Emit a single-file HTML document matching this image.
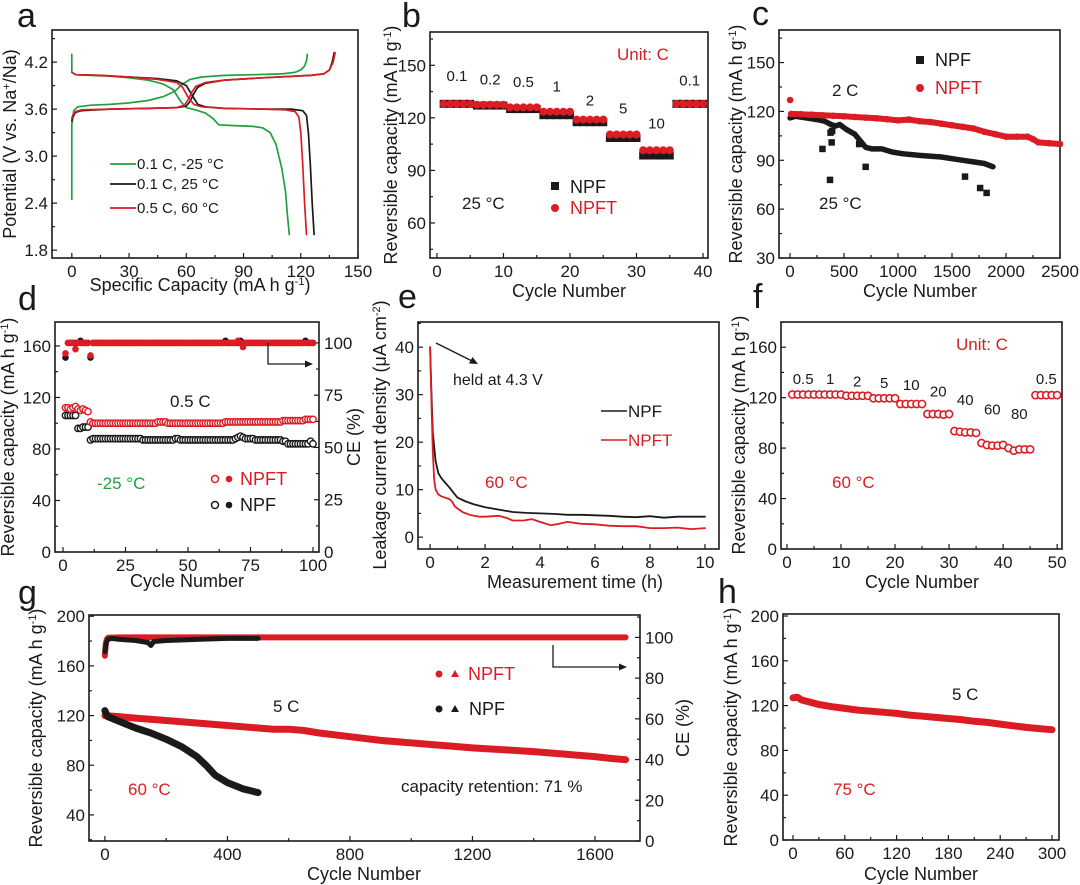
<!DOCTYPE html>
<html><head><meta charset="utf-8"><title>Figure</title>
<style>
html,body{margin:0;padding:0;background:#fff;}
svg{display:block;font-family:"Liberation Sans",Arial,sans-serif;}
</style></head>
<body>
<svg id="fig" width="1080" height="885" viewBox="0 0 1080 885" xmlns="http://www.w3.org/2000/svg"></svg>
<script>
// ---------- DATA ----------
// panel a (capacity, voltage)
const aGreenChgX=[0,0,1,3,10,20,30,40,48,54,58,62,68,80,95,110,117,120,122,123,123.5];
const aGreenChgY=[2.45,3.40,3.58,3.63,3.65,3.66,3.68,3.71,3.76,3.83,3.92,3.98,4.01,4.03,4.04,4.05,4.07,4.10,4.15,4.22,4.30];
const aGreenDisX=[0,0,2,10,20,30,40,48,53,57,60,65,70,74,77,85,95,100,104,107,110,112,113,114];
const aGreenDisY=[4.30,4.07,4.04,4.03,4.02,4.00,3.97,3.92,3.85,3.70,3.62,3.59,3.55,3.48,3.40,3.39,3.38,3.36,3.30,3.15,2.85,2.55,2.25,2.00];
const aBlackChgX=[0,0.5,2,5,20,40,55,60,62,64,66,70,80,100,125,132,135,136.5,137.5];
const aBlackChgY=[3.45,3.50,3.56,3.58,3.60,3.61,3.62,3.64,3.70,3.80,3.88,3.93,3.97,4.00,4.03,4.05,4.10,4.20,4.32];
const aRedChgX=[0,0.5,2,5,20,40,55,59,61,63,65,70,80,100,125,132,135,137,138];
const aRedChgY=[3.48,3.52,3.57,3.59,3.60,3.61,3.62,3.65,3.72,3.82,3.89,3.94,3.97,4.00,4.03,4.05,4.10,4.20,4.32];
const aBlackDisX=[0,2,15,30,45,55,60,63,66,70,80,100,115,121,123,124,125,126,127];
const aBlackDisY=[4.07,4.04,4.03,4.01,3.99,3.96,3.90,3.78,3.66,3.63,3.61,3.60,3.60,3.58,3.52,3.30,2.90,2.40,2.00];
const aRedDisX=[0,2,15,30,45,55,58,61,64,68,80,100,112,117,119,120,121,122,123];
const aRedDisY=[4.07,4.04,4.03,4.01,3.98,3.94,3.88,3.75,3.66,3.63,3.61,3.60,3.59,3.57,3.50,3.30,2.90,2.40,2.00];
// panel b
const bNPFT=[128,128,128,128,128,127.5,127.5,127.5,127.5,127.5,126,126,126,126,126,123.5,123.5,123.5,123.5,123.5,119,119,119,119,119,110.5,110.5,110.5,110.5,110.5,101.5,101.5,101.5,101.5,101.5,128,128,128,128,128];
const bNPF=[128,128,128,128,128,127,127,127,127,127,125,125,125,125,125,121.5,121.5,121.5,121.5,121.5,117.5,117.5,117.5,117.5,117.5,108.5,108.5,108.5,108.5,108.5,98.5,98.5,98.5,98.5,98.5,128,128,128,128,128];
const bRates=["0.1","0.2","0.5","1","2","5","10","0.1"];
const bRateCycle=[3,8,13,18,23,28,33,38];
const bRateVal=[141,139,137.5,135,127,122.5,114,138.5];
// panel c
const cNPFTx=[1,10,100,200,300,400,500,600,700,800,900,1000,1100,1200,1300,1400,1500,1600,1700,1800,1900,2000,2100,2200,2250,2300,2400,2500];
const cNPFTy=[127,118.5,118.3,118,117.6,117.3,117,116.6,116.2,115.8,115.2,114.5,115,114,113.5,112.5,111.5,110.5,109.5,107.5,106,104.5,104.5,104.5,103,101,100.5,100];
const cNPFx=[1,50,150,250,320,380,420,460,520,600,650,700,760,850,950,1050,1200,1400,1600,1700,1800,1880];
const cNPFy=[116,117,116,115,114,112,111,112,109,106,102,98,97,97,95,94,93,92,90,89,88,86];
const cOutX=[300,370,385,375,700,1620,1760,1820,390,640];
const cOutY=[97,78,101,107,86,80,73,70,108,100];
// panel d (cycles 1..100)
const dNPFT=[112,112,111,112,113,111,110,111,110,109,
101,100,100,100,100,100,100,100,100,100,
100,100,100,100,100,100,100,100,100,100,
100,100,100,100,100,100,100,101,101,101,
101,100,100,100,100,100,100,100,100,100,
100,100,100,100,100,100,100,100,100,100,
100,100,100,100,101,101,101,101,101,101,
101,101,101,101,101,101,101,101,101,101,
101,101,101,101,101,101,101,102,102,102,
102,102,102,102,102,102,103,103,103,103];
const dNPF=[106,106,106,106,106,96,96,97,97,97,
87,88,88,88,88,88,88,88,88,88,
88,88,88,88,88,88,88,88,88,88,
88,87,87,87,87,87,87,87,87,87,
87,87,87,87,88,88,87,87,87,87,
87,87,87,87,87,87,87,87,87,87,
87,87,87,87,87,87,87,87,88,89,
90,89,88,88,88,88,87,87,87,87,
87,87,87,87,87,87,87,86,86,84,
84,84,84,84,84,84,84,84,86,84];
const dCENPFT=[95,100,100,100,97,100,100,100,100,100,
94,100,100,100,100,100,100,100,100,100,
100,100,100,100,100,100,100,100,100,100,
100,100,100,100,100,100,100,100,100,100,
100,100,100,100,100,100,100,100,100,100,
100,100,100,100,100,100,100,100,100,100,
100,100,100,100,100,100,100,100,100,101,
100,98,100,100,100,100,100,100,100,100,
100,100,100,100,100,100,100,100,100,100,
100,100,100,100,100,100,100,100,100,100];
const dCENPF=[93,100,100,100,100,100,101,100,100,100,
93,100,100,100,100,100,100,100,100,100,
100,100,100,100,100,100,100,100,100,100,
100,100,100,100,100,100,100,100,100,100,
100,100,100,100,100,100,100,100,100,100,
100,100,100,100,100,100,100,100,100,100,
100,100,100,100,101,100,100,100,100,100,
101,100,100,100,100,100,100,100,100,100,
100,100,100,100,100,100,100,100,100,100,
100,100,100,100,100,100,101,100,100,100];
// panel e
const eNPFx=[0,0.05,0.1,0.2,0.3,0.4,0.5,0.7,0.9,1.0,1.3,1.6,2.0,2.5,3.0,3.5,4.0,4.5,5.0,5.5,6.0,6.5,7.0,7.5,8.0,8.5,9.0,9.5,10];
const eNPFy=[40,30,22,16,13.5,12.5,11.8,10.5,9,8.3,7.5,6.9,6.3,5.8,5.3,5.1,5.0,4.9,4.7,4.7,4.6,4.5,4.3,4.2,4.4,4.1,4.3,4.3,4.3];
const eNPFTx=[0,0.05,0.1,0.15,0.2,0.3,0.4,0.5,0.7,0.8,0.9,1.0,1.2,1.5,1.8,2.0,2.5,2.8,3.0,3.4,3.7,4.0,4.4,4.7,5.0,5.5,6.0,6.5,7.0,7.5,8.0,8.5,9.0,9.5,10];
const eNPFTy=[40,28,18,12,10,9,8.6,8.4,8,7.5,6.5,6,5.2,4.6,4.3,4.3,4.5,4.0,3.5,3.5,3.8,3.2,2.5,2.8,3.2,2.8,2.7,2.4,2.3,2.3,1.9,1.9,2.0,1.7,1.9];
// panel f (cycles 1..50)
const fNPFT=[122.5,122.5,122.5,122.5,122.5,122.5,122.5,122.5,122.5,122.5,
121.5,121.5,121.5,121.5,121.5,119.5,119.5,119.5,119.5,119.5,
115,115,115,115,115,107,107,107,106.5,107,
93.5,93,92.5,92.5,92,84,82.5,82,82,82.5,
80,78,79,79,79,122,122,122,122,122];
const fRates=["0.5","1","2","5","10","20","40","60","80","0.5"];
const fRateCycle=[3,8,13,18,23,28,33,38,43,48];
const fRateVal=[131,131,129,127.5,126,121,114,106.5,103,131];
// panel g
const gNPFTx=[0,50,100,200,300,400,500,550,600,650,700,800,900,1000,1100,1200,1300,1400,1500,1600,1650,1700];
const gNPFTy=[120,119,118,116,114,112,110,109,109,108,106,103,100,98,96,94,92.5,91,89,87,85.5,84.5];
const gNPFx=[0,5,10,50,100,150,200,250,300,330,360,380,400,450,500];
const gNPFy=[124,121,119,115,110,106,101,95,87,80,72,69,66,61,58];
const gCENPFTx=[0,3,6,10,50,200,400,600,800,1000,1200,1400,1600,1700];
const gCENPFTy=[91,97,99,99.8,100,100,100,100,100,100,100,100,100,100];
const gCENPFx=[0,3,6,10,20,50,100,140,150,160,200,300,400,500];
const gCENPFy=[93,96,98,99,99.5,99,98.5,97.5,96,98,98.5,99,99.5,99.5];
// panel h
const hX=[0,5,10,20,30,45,60,75,90,105,120,135,150,165,180,195,210,225,240,255,270,285,300];
const hY=[127,127.5,125,123,121,119,117.5,116,115,114,113,111.5,110.5,109.5,108.5,107.5,106,105,103.5,102,100.5,99.5,98.5];

// ---------- HELPERS ----------
const NS="http://www.w3.org/2000/svg";
const svg=document.getElementById('fig');
const RED="#dc1c24", GREEN="#22a040", INK="#1a1a1a";
const TICK=17, TITLE=18;
function mk(tag,attrs,name,parent){
  const el=document.createElementNS(NS,tag);
  for(const k in attrs) el.setAttribute(k,attrs[k]);
  
  
  (parent||svg).appendChild(el);
  return el;
}
function txt(x,y,s,name,opt){
  opt=opt||{};
  const t=mk('text',{x:x,y:y,'font-size':opt.size||TICK,fill:opt.fill||INK,'text-anchor':opt.anchor||'start'},name,opt.parent);
  if(opt.rot){t.setAttribute('transform','rotate(-90 '+x+' '+y+')');}
  t.textContent=s;
  return t;
}
function lin(d0,d1,p0,p1){return v=>p0+(v-d0)*(p1-p0)/(d1-d0);}
function frame(c){
  const g=mk('g',{},c.name);
  const x=lin(c.xd[0],c.xd[1],c.L,c.R), y=lin(c.yd[0],c.yd[1],c.B,c.T);
  mk('rect',{x:c.L,y:c.T,width:c.R-c.L,height:c.B-c.T,fill:'none',stroke:INK,'stroke-width':1.6},c.name+'-plot-frame',g);
  for(let v=c.xmin0;v<=c.xd[1]+1e-9;v+=c.xminor){
    const major=c.xticks.some(t=>Math.abs(t-v)<1e-9);
    mk('line',{x1:x(v),x2:x(v),y1:c.B,y2:c.B-(major?5:3),stroke:INK,'stroke-width':1.2},'x-tick',g);
  }
  c.xticks.forEach((v,i)=>txt(x(v),c.B+19,c.xlabels?c.xlabels[i]:String(v),'x-tick-label',{anchor:'middle',parent:g}));
  for(let v=c.ymin0;v<=c.yd[1]+1e-9;v+=c.yminor){
    const major=c.yticks.some(t=>Math.abs(t-v)<1e-9);
    mk('line',{x1:c.L,x2:c.L+(major?5:3),y1:y(v),y2:y(v),stroke:INK,'stroke-width':1.2},'y-tick',g);
  }
  c.yticks.forEach((v,i)=>txt(c.L-4,y(v)+6,c.ylabels?c.ylabels[i]:String(v),'y-tick-label',{anchor:'end',parent:g}));
  return {x:x,y:y,g:g};
}
function rightAxis(c,d0,d1,ticks,minor){
  const y=lin(d0,d1,c.B,c.T);
  for(let v=0;v<=d1+1e-9;v+=minor){
    const major=ticks.some(t=>Math.abs(t-v)<1e-9);
    mk('line',{x1:c.R,x2:c.R-(major?5:3),y1:y(v),y2:y(v),stroke:INK,'stroke-width':1.2},'right-y-tick',svg);
  }
  ticks.forEach(v=>txt(c.R+5,y(v)+6,String(v),'right-y-tick-label',{}));
  return y;
}
function poly(xs,ys,X,Y,stroke,w,name){
  const pts=xs.map((v,i)=>X(v).toFixed(1)+','+Y(ys[i]).toFixed(1)).join(' ');
  return mk('polyline',{points:pts,fill:'none',stroke:stroke,'stroke-width':w,'stroke-linejoin':'round','stroke-linecap':'round'},name);
}
function sup(t,s){const ts=document.createElementNS(NS,'tspan');ts.setAttribute('baseline-shift','super');ts.setAttribute('font-size','11');ts.textContent=s;t.appendChild(ts);}
function unitTitle(x,y,name,rot,pre){
  const t=txt(x,y,pre+' (mA h g','',{size:TITLE,anchor:'middle',rot:rot});
  
  sup(t,'-1');
  const tail=document.createElementNS(NS,'tspan');tail.textContent=')';t.appendChild(tail);
  return t;
}
[['a',17,27],['b',402,27],['c',752,25],['d',18,310],['e',398,308],['f',753,308],['g',18,604],['h',718,603]].forEach(p=>{
  txt(p[1],p[2],p[0],'panel-label-'+p[0],{size:34});
});

// ---------- PANEL A ----------
const A={name:'panel-a',L:52,R:358,T:30,B:258,xd:[-10.4,150],yd:[1.70,4.61],xticks:[0,30,60,90,120,150],xmin0:0,xminor:15,yticks:[1.8,2.4,3.0,3.6,4.2],ylabels:['1.8','2.4','3.0','3.6','4.2'],ymin0:1.8,yminor:0.3};
let pa=frame(A);
poly(aGreenChgX,aGreenChgY,pa.x,pa.y,GREEN,1.7,'series-green-charge');
poly(aGreenDisX,aGreenDisY,pa.x,pa.y,GREEN,1.7,'series-green-discharge');
poly(aBlackChgX,aBlackChgY,pa.x,pa.y,INK,1.7,'series-black-charge');
poly(aBlackDisX,aBlackDisY,pa.x,pa.y,INK,1.7,'series-black-discharge');
poly(aRedChgX,aRedChgY,pa.x,pa.y,RED,1.7,'series-red-charge');
poly(aRedDisX,aRedDisY,pa.x,pa.y,RED,1.7,'series-red-discharge');
[[GREEN,164,'0.1 C, -25 °C'],[INK,184,'0.1 C, 25 °C'],[RED,208,'0.5 C, 60 °C']].forEach((l,i)=>{
  mk('line',{x1:110,x2:136,y1:l[1],y2:l[1],stroke:l[0],'stroke-width':1.8},'legend-line');
  txt(137,l[1]+5,l[2],'legend-entry',{size:15});
});
unitTitle(200,291,'x-axis-title-a',false,'Specific Capacity');
{const t=txt(16,144,'Potential (V vs. Na','y-axis-title-a',{size:TITLE,anchor:'middle',rot:true});sup(t,'+');const ts=document.createElementNS(NS,'tspan');ts.textContent='/Na)';t.appendChild(ts);}

// ---------- PANEL B ----------
const B={name:'panel-b',L:430,R:708,T:32,B:258,xd:[-1.05,40.75],yd:[40,169],xticks:[0,10,20,30,40],xmin0:0,xminor:5,yticks:[60,90,120,150],ymin0:45,yminor:15};
let pb=frame(B);
bNPF.forEach((v,i)=>mk('rect',{x:pb.x(i+1)-4,y:pb.y(v)-4,width:8,height:8,fill:INK},'npf-point'));
bNPFT.forEach((v,i)=>mk('circle',{cx:pb.x(i+1),cy:pb.y(v),r:4,fill:RED},'npft-point'));
bRates.forEach((s,i)=>txt(pb.x(bRateCycle[i]),pb.y(bRateVal[i]),s,'rate-label',{size:15,anchor:'middle'}));
txt(617,60,'Unit: C','unit-label',{size:17,fill:RED});
txt(462,209,'25 °C','temperature-label',{size:17});
mk('rect',{x:551,y:182,width:8,height:8,fill:INK},'legend-marker-npf');
txt(570,193,'NPF','legend-npf',{size:18});
mk('circle',{cx:555,cy:208,r:4,fill:RED},'legend-marker-npft');
txt(570,214,'NPFT','legend-npft',{size:18,fill:RED});
txt(569,297,'Cycle Number','x-axis-title-b',{size:TITLE,anchor:'middle'});
unitTitle(397,145,'y-axis-title-b',true,'Reversible capacity');

// ---------- PANEL C ----------
const C={name:'panel-c',L:779,R:1060,T:30,B:258,xd:[-102,2500],yd:[30,170],xticks:[0,500,1000,1500,2000,2500],xmin0:0,xminor:250,yticks:[30,60,90,120,150],ymin0:30,yminor:15};
let pc=frame(C);
poly(cNPFx,cNPFy,pc.x,pc.y,INK,5.5,'npf-series');
cOutX.forEach((v,i)=>mk('rect',{x:pc.x(v)-3.2,y:pc.y(cOutY[i])-3.2,width:6.5,height:6.5,fill:INK},'npf-outlier'));
poly(cNPFTx.slice(1),cNPFTy.slice(1),pc.x,pc.y,RED,6,'npft-series');
cNPFTx.forEach((v,i)=>mk('circle',{cx:pc.x(v),cy:pc.y(cNPFTy[i]),r:3.3,fill:RED},'npft-point'));
mk('rect',{x:916,y:56,width:8,height:8,fill:INK},'legend-marker-npf');
txt(935,66,'NPF','legend-npf',{size:18});
mk('circle',{cx:920,cy:88,r:4,fill:RED},'legend-marker-npft');
txt(935,94,'NPFT','legend-npft',{size:18,fill:RED});
txt(832,96,'2 C','rate-label',{size:17});
txt(819,209,'25 °C','temperature-label',{size:17});
txt(920,297,'Cycle Number','x-axis-title-c',{size:TITLE,anchor:'middle'});
unitTitle(742,144,'y-axis-title-c',true,'Reversible capacity');

// ---------- PANEL D ----------
const D={name:'panel-d',L:55,R:319,T:322,B:552,xd:[-3.2,102.4],yd:[0,178.6],xticks:[0,25,50,75,100],xmin0:0,xminor:12.5,yticks:[0,40,80,120,160],ymin0:0,yminor:20};
let pd=frame(D);
const dCE=rightAxis(D,0,110,[0,25,50,75,100],12.5);
dCENPF.forEach((v,i)=>mk('circle',{cx:pd.x(i+1),cy:dCE(v),r:3.3,fill:INK},'npf-ce-point'));
dCENPFT.forEach((v,i)=>mk('circle',{cx:pd.x(i+1),cy:dCE(v),r:3.3,fill:RED},'npft-ce-point'));
dNPF.forEach((v,i)=>mk('circle',{cx:pd.x(i+1),cy:pd.y(v),r:3.2,fill:'#fff',stroke:INK,'stroke-width':1.4},'npf-capacity-point'));
dNPFT.forEach((v,i)=>mk('circle',{cx:pd.x(i+1),cy:pd.y(v),r:3.2,fill:'#fff',stroke:RED,'stroke-width':1.4},'npft-capacity-point'));
mk('path',{d:'M268 343 V364 H311',fill:'none',stroke:INK,'stroke-width':1.3},'ce-axis-arrow');
mk('path',{d:'M313 364 L305 360.5 L305 367.5 Z',fill:INK},'ce-axis-arrowhead');
txt(170,407,'0.5 C','rate-label',{size:17});
txt(97,489,'-25 °C','temperature-label',{size:17,fill:GREEN});
mk('circle',{cx:215,cy:479,r:3.5,fill:'#fff',stroke:RED,'stroke-width':1.5},'legend-marker-npft-open');
mk('circle',{cx:229,cy:479,r:3.3,fill:RED},'legend-marker-npft-filled');
txt(240,485,'NPFT','legend-npft',{size:18,fill:RED});
mk('circle',{cx:215,cy:505,r:3.5,fill:'#fff',stroke:INK,'stroke-width':1.5},'legend-marker-npf-open');
mk('circle',{cx:229,cy:505,r:3.3,fill:INK},'legend-marker-npf-filled');
txt(240,511,'NPF','legend-npf',{size:18});
txt(187,587,'Cycle Number','x-axis-title-d',{size:TITLE,anchor:'middle'});
unitTitle(14,437,'y-axis-title-d',true,'Reversible capacity');
txt(360,437,'CE (%)','right-axis-title-d',{size:TITLE,anchor:'middle',rot:true});

// ---------- PANEL E ----------
const E={name:'panel-e',L:418,R:719,T:322,B:549,xd:[-0.44,10.51],yd:[-2.5,45.3],xticks:[0,2,4,6,8,10],xmin0:0,xminor:1,yticks:[0,10,20,30,40],ymin0:0,yminor:5};
let pe=frame(E);
poly(eNPFx,eNPFy,pe.x,pe.y,INK,1.8,'npf-leakage-line');
poly(eNPFTx,eNPFTy,pe.x,pe.y,RED,1.8,'npft-leakage-line');
mk('line',{x1:436,y1:343,x2:474,y2:362,stroke:INK,'stroke-width':1.4},'hold-arrow');
mk('path',{d:'M478 364 L469 363.5 L472.5 357 Z',fill:INK},'hold-arrowhead');
txt(453,385,'held at 4.3 V','hold-label',{size:16});
mk('line',{x1:601,x2:627,y1:411,y2:411,stroke:INK,'stroke-width':1.6},'legend-line-npf');
txt(628,417,'NPF','legend-npf',{size:17});
mk('line',{x1:601,x2:627,y1:440,y2:440,stroke:RED,'stroke-width':1.6},'legend-line-npft');
txt(628,446,'NPFT','legend-npft',{size:17,fill:RED});
txt(485,488,'60 °C','temperature-label',{size:17,fill:RED});
txt(575,588,'Measurement time (h)','x-axis-title-e',{size:TITLE,anchor:'middle'});
{const t=txt(386,435,'Leakage current density (μA cm','y-axis-title-e',{size:TITLE,anchor:'middle',rot:true});sup(t,'-2');const ts=document.createElementNS(NS,'tspan');ts.textContent=')';t.appendChild(ts);}

// ---------- PANEL F ----------
const F={name:'panel-f',L:781,R:1062,T:322,B:549,xd:[-1.1,50.9],yd:[0,180],xticks:[0,10,20,30,40,50],xmin0:0,xminor:5,yticks:[0,40,80,120,160],ymin0:0,yminor:20};
let pf=frame(F);
fNPFT.forEach((v,i)=>mk('circle',{cx:pf.x(i+1),cy:pf.y(v),r:3.6,fill:'#fff',stroke:RED,'stroke-width':1.6},'npft-point'));
fRates.forEach((s,i)=>txt(pf.x(fRateCycle[i]),pf.y(fRateVal[i]),s,'rate-label',{size:15,anchor:'middle'}));
txt(956,350,'Unit: C','unit-label',{size:17,fill:RED});
txt(832,488,'60 °C','temperature-label',{size:17,fill:RED});
txt(922,588,'Cycle Number','x-axis-title-f',{size:TITLE,anchor:'middle'});
unitTitle(745,435,'y-axis-title-f',true,'Reversible capacity');

// ---------- PANEL G ----------
const G={name:'panel-g',L:89,R:640,T:615,B:841,xd:[-52,1747],yd:[19,201],xticks:[0,400,800,1200,1600],xmin0:0,xminor:200,yticks:[40,80,120,160,200],ymin0:20,yminor:20};
let pg=frame(G);
const gCE=rightAxis(G,0,111,[0,20,40,60,80,100],10);
poly(gCENPFTx,gCENPFTy,pg.x,gCE,RED,6,'npft-ce-series');
poly(gCENPFx,gCENPFy,pg.x,gCE,INK,5,'npf-ce-series');
poly(gNPFTx,gNPFTy,pg.x,pg.y,RED,7,'npft-capacity-series');
poly(gNPFx,gNPFy,pg.x,pg.y,INK,7,'npf-capacity-series');
mk('path',{d:'M553 645 V667 H624',fill:'none',stroke:INK,'stroke-width':1.3},'ce-axis-arrow');
mk('path',{d:'M627 667 L619 663.5 L619 670.5 Z',fill:INK},'ce-axis-arrowhead');
mk('circle',{cx:439,cy:674,r:3.5,fill:RED},'legend-marker-npft-circle');
mk('path',{d:'M455 670 L459 677 L451 677 Z',fill:RED},'legend-marker-npft-triangle');
txt(468,680,'NPFT','legend-npft',{size:18,fill:RED});
mk('circle',{cx:439,cy:709,r:3.5,fill:INK},'legend-marker-npf-circle');
mk('path',{d:'M455 705 L459 712 L451 712 Z',fill:INK},'legend-marker-npf-triangle');
txt(469,715,'NPF','legend-npf',{size:18});
txt(273,712,'5 C','rate-label',{size:17});
txt(128,795,'60 °C','temperature-label',{size:17,fill:RED});
txt(401,792,'capacity retention: 71 %','retention-label',{size:17});
txt(364,880,'Cycle Number','x-axis-title-g',{size:TITLE,anchor:'middle'});
unitTitle(42,728,'y-axis-title-g',true,'Reversible capacity');
txt(689,728,'CE (%)','right-axis-title-g',{size:TITLE,anchor:'middle',rot:true});

// ---------- PANEL H ----------
const H={name:'panel-h',L:783,R:1059,T:614,B:840,xd:[-11.6,308.1],yd:[0,201.8],xticks:[0,60,120,180,240,300],xmin0:0,xminor:30,yticks:[0,40,80,120,160,200],ymin0:0,yminor:20};
let ph=frame(H);
poly(hX,hY,ph.x,ph.y,RED,7,'npft-capacity-series');
txt(952,700,'5 C','rate-label',{size:17});
txt(833,795,'75 °C','temperature-label',{size:17,fill:RED});
txt(921,880,'Cycle Number','x-axis-title-h',{size:TITLE,anchor:'middle'});
unitTitle(737,727,'y-axis-title-h',true,'Reversible capacity');
</script>
</body></html>
